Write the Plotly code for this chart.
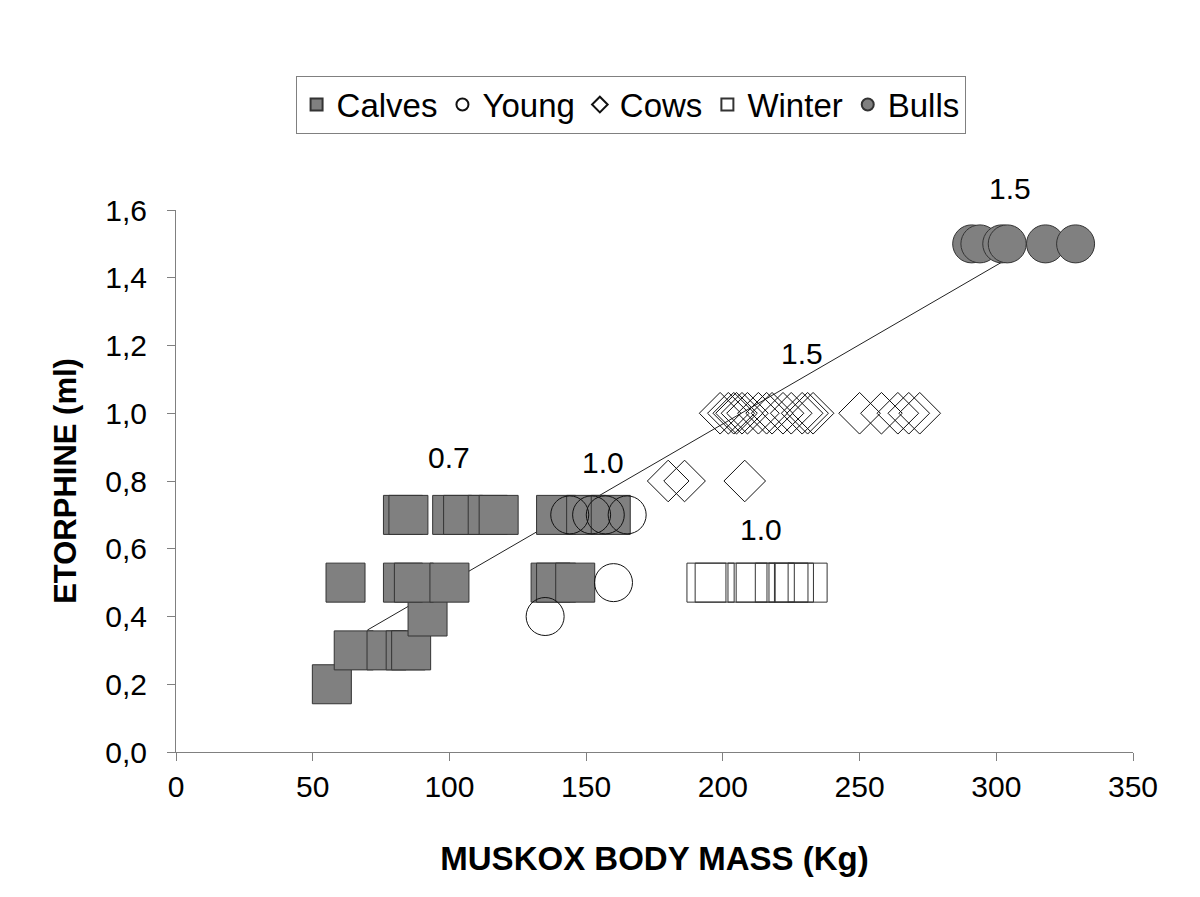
import plotly.graph_objects as go

# body mass (kg) and etorphine dose (ml)
calves_x = [57, 65, 77, 84, 86, 92, 62, 83, 87, 100, 137, 139, 146,
            83, 85, 101, 105, 114, 118, 139, 150, 159]
calves_y = [0.2, 0.3, 0.3, 0.3, 0.3, 0.4, 0.5, 0.5, 0.5, 0.5, 0.5, 0.5, 0.5,
            0.7, 0.7, 0.7, 0.7, 0.7, 0.7, 0.7, 0.7, 0.7]

young_x = [135, 160, 144, 152, 157, 165]
young_y = [0.4, 0.5, 0.7, 0.7, 0.7, 0.7]

cows_x = [180, 186, 208,
          199, 202, 204, 205, 207, 209, 213, 216, 218, 222, 225, 229, 231, 233,
          250, 258, 264, 268, 272]
cows_y = [0.8, 0.8, 0.8,
          1.0, 1.0, 1.0, 1.0, 1.0, 1.0, 1.0, 1.0, 1.0, 1.0, 1.0, 1.0, 1.0, 1.0,
          1.0, 1.0, 1.0, 1.0, 1.0]

winter_x = [194, 197, 209, 212, 219, 224, 226, 231]
winter_y = [0.5, 0.5, 0.5, 0.5, 0.5, 0.5, 0.5, 0.5]

bulls_x = [291, 294, 302, 304, 318, 329]
bulls_y = [1.5, 1.5, 1.5, 1.5, 1.5, 1.5]

fit_x = [70, 305]
fit_y = [0.36, 1.46]

label_text = ["0.7", "1.0", "1.0", "1.5", "1.5"]
label_x = [100, 156, 214, 229, 305]
label_y = [0.87, 0.855, 0.657, 1.175, 1.663]

y_max = 1.6
font_family = "Arial, Liberation Sans, sans-serif"
grey = "#808080"

fig = go.Figure()

fig.add_trace(go.Scatter(x=fit_x, y=fit_y, mode="lines",
                         line=dict(color="#222222", width=1), showlegend=False,
                         hoverinfo="skip"))

fig.add_trace(go.Scatter(x=calves_x, y=calves_y, mode="markers", name="Calves",
                         marker=dict(symbol="square", size=39, color=grey,
                                     line=dict(color="#333333", width=1))))
fig.add_trace(go.Scatter(x=young_x, y=young_y, mode="markers", name="Young",
                         marker=dict(symbol="circle-open", size=38, color="#111111",
                                     line=dict(width=1))))
fig.add_trace(go.Scatter(x=cows_x, y=cows_y, mode="markers", name="Cows",
                         marker=dict(symbol="diamond-open", size=32, color="#111111",
                                     line=dict(width=1))))
fig.add_trace(go.Scatter(x=winter_x, y=winter_y, mode="markers", name="Winter",
                         marker=dict(symbol="square-open", size=39, color="#333333",
                                     line=dict(width=1))))
fig.add_trace(go.Scatter(x=bulls_x, y=bulls_y, mode="markers", name="Bulls",
                         marker=dict(symbol="circle", size=38, color=grey,
                                     line=dict(color="#333333", width=1))))

# labels above the range would be hidden on the y axis, so place them in paper units
for t, x, y in zip(label_text, label_x, label_y):
    fig.add_annotation(x=x, y=y / y_max, yref="paper", yanchor="middle",
                       xanchor="center", text=t, showarrow=False,
                       font=dict(size=30, color="black", family=font_family))

fig.update_layout(
    width=1200, height=897,
    margin=dict(l=168, r=75, t=202, b=153),
    plot_bgcolor="white", paper_bgcolor="white",
    font=dict(family=font_family, color="black", size=30),
    separators=",.",
    legend=dict(orientation="h", x=0.475, y=1.248, xanchor="center", yanchor="top",
                bordercolor=grey, borderwidth=1, font=dict(size=33),
                itemsizing="constant", tracegroupgap=0),
    xaxis=dict(range=[0, 350], tickvals=[0, 50, 100, 150, 200, 250, 300, 350],
               showgrid=False, zeroline=False, showline=True, linecolor=grey,
               linewidth=1, ticks="outside", ticklen=8, tickcolor=grey,
               automargin=False,
               title=dict(text="<b>MUSKOX BODY MASS (Kg)</b>", standoff=44,
                          font=dict(size=33))),
    yaxis=dict(range=[0, y_max], tickvals=[0, 0.2, 0.4, 0.6, 0.8, 1.0, 1.2, 1.4, 1.6],
               tickformat=".1f", showgrid=False, zeroline=False, showline=True,
               linecolor=grey, linewidth=1, ticks="outside", ticklen=8,
               tickcolor=grey, ticklabelstandoff=14, automargin=False,
               title=dict(text="<b>ETORPHINE (ml)</b>", standoff=19,
                          font=dict(size=31))),
)

fig.write_html("out.html")
